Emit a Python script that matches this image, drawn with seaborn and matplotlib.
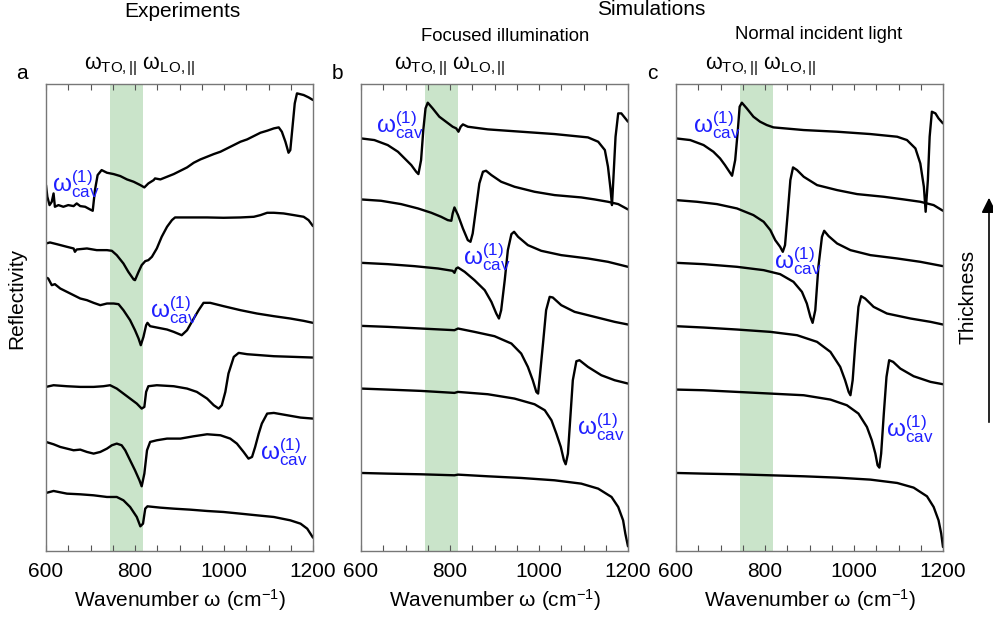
import matplotlib
matplotlib.use('Agg')
import matplotlib.pyplot as plt
import seaborn as sns

# ---- data (wavenumber in cm^-1, offset reflectivity in a.u.) ----
band_lo, band_hi = 743, 817   # omega_TO,|| .. omega_LO,||

# Experiments (a), top curve first
exp1_w = [600, 603, 608, 613, 617, 620, 628, 639, 650, 662, 669, 677, 688, 699, 705, 710, 716, 725, 737, 752,
          767, 782, 797, 812, 821, 830, 842, 845, 857, 872, 887, 902, 917, 932, 947, 962, 977, 992, 1007,
          1022, 1037, 1052, 1067, 1082, 1097, 1112, 1123, 1130, 1138, 1145, 1149, 1154, 1159, 1164, 1179, 1190, 1200]
exp1_r = [10.97, 10.62, 10.37, 10.47, 10.72, 10.32, 10.37, 10.32, 10.37, 10.34, 10.42, 10.34, 10.32, 10.24, 10.20,
          10.82, 11.27, 11.42, 11.34, 11.30, 11.24, 11.14, 11.07, 10.97, 10.90, 11.02, 11.12, 11.17, 11.14, 11.22,
          11.30, 11.40, 11.50, 11.64, 11.74, 11.82, 11.90, 11.97, 12.07, 12.17, 12.27, 12.34, 12.44, 12.54, 12.60,
          12.67, 12.70, 12.57, 12.27, 11.94, 12.02, 12.72, 13.42, 13.72, 13.67, 13.60, 13.52]
exp2_w = [600, 609, 624, 647, 662, 665, 669, 692, 714, 737, 748, 759, 774, 785, 797, 800, 808, 815, 823, 830,
          838, 849, 860, 872, 883, 890, 924, 962, 999, 1037, 1067, 1082, 1097, 1112, 1134, 1157, 1179, 1190, 1200]
exp2_r = [9.22, 9.25, 9.20, 9.12, 9.07, 8.97, 9.04, 9.07, 9.02, 9.02, 9.00, 8.87, 8.62, 8.37, 8.14, 8.12, 8.37,
          8.57, 8.69, 8.72, 8.82, 9.07, 9.42, 9.72, 9.92, 10.00, 10.00, 10.00, 9.99, 10.00, 10.02, 10.07, 10.14,
          10.14, 10.12, 10.07, 10.02, 9.92, 9.74]
exp3_w = [600, 605, 613, 620, 632, 647, 662, 677, 692, 707, 722, 737, 752, 763, 774, 789, 800, 808, 813, 819,
          825, 828, 834, 849, 872, 887, 905, 917, 932, 943, 954, 969, 999, 1037, 1074, 1112, 1149, 1179, 1200]
exp3_r = [8.20, 8.17, 7.97, 8.00, 7.87, 7.77, 7.67, 7.57, 7.52, 7.44, 7.37, 7.42, 7.42, 7.40, 7.22, 6.92, 6.62,
          6.37, 6.17, 6.42, 6.77, 6.84, 6.74, 6.70, 6.64, 6.57, 6.47, 6.62, 6.97, 7.22, 7.44, 7.44, 7.34, 7.22,
          7.12, 7.04, 6.97, 6.90, 6.84]
exp4_w = [600, 617, 647, 677, 707, 729, 744, 759, 774, 789, 804, 815, 821, 825, 830, 849, 887, 917, 939, 962,
          977, 988, 995, 1003, 1010, 1022, 1033, 1052, 1112, 1157, 1200]
exp4_r = [4.92, 4.97, 4.94, 4.92, 4.92, 4.94, 4.97, 4.87, 4.72, 4.57, 4.42, 4.27, 4.32, 4.77, 4.94, 4.97, 4.94,
          4.87, 4.77, 4.57, 4.37, 4.27, 4.37, 4.77, 5.32, 5.82, 5.94, 5.90, 5.84, 5.82, 5.80]
exp5_w = [600, 617, 632, 647, 662, 677, 692, 707, 722, 737, 748, 759, 770, 778, 789, 800, 810, 815, 821, 827,
          834, 849, 872, 902, 932, 962, 992, 1014, 1029, 1044, 1055, 1063, 1070, 1078, 1085, 1097, 1112, 1142,
          1172, 1200]
exp5_r = [3.27, 3.20, 3.12, 3.07, 3.02, 3.04, 2.97, 2.92, 2.97, 3.07, 3.17, 3.22, 3.17, 3.02, 2.72, 2.42, 2.12,
          1.94, 2.32, 3.02, 3.27, 3.32, 3.37, 3.37, 3.44, 3.50, 3.47, 3.37, 3.22, 2.97, 2.77, 2.82, 3.12, 3.52,
          3.82, 4.12, 4.14, 4.07, 4.00, 3.97]
exp6_w = [600, 617, 647, 677, 707, 737, 759, 774, 789, 804, 812, 818, 823, 828, 857, 887, 924, 962, 999, 1037,
          1074, 1112, 1149, 1172, 1187, 1200]
exp6_r = [1.74, 1.80, 1.72, 1.70, 1.67, 1.62, 1.62, 1.52, 1.32, 1.02, 0.74, 0.82, 1.27, 1.34, 1.30, 1.27, 1.24,
          1.20, 1.17, 1.12, 1.07, 1.02, 0.92, 0.82, 0.67, 0.40]

# Simulations, focused illumination (b)
foc1_w = [600, 630, 660, 683, 698, 713, 724, 729, 735, 740, 745, 750, 761, 776, 791, 806, 814, 819, 824, 829,
          840, 885, 960, 1035, 1095, 1110, 1133, 1148, 1155, 1161, 1164, 1167, 1172, 1178, 1185, 1200]
foc1_r = [12.37, 12.32, 12.17, 11.97, 11.77, 11.57, 11.37, 11.30, 11.72, 12.62, 13.27, 13.44, 13.27, 13.02,
          12.87, 12.72, 12.67, 12.57, 12.72, 12.79, 12.72, 12.64, 12.57, 12.50, 12.42, 12.40, 12.27, 12.02, 11.52,
          10.82, 10.37, 11.12, 12.42, 13.12, 13.12, 12.87]
foc2_w = [600, 645, 690, 728, 758, 780, 795, 803, 806, 810, 818, 829, 840, 846, 851, 859, 866, 874, 881, 893,
          915, 945, 990, 1035, 1095, 1125, 1155, 1178, 1200]
foc2_r = [10.54, 10.50, 10.40, 10.27, 10.14, 10.02, 9.92, 9.90, 10.12, 10.30, 10.07, 9.67, 9.32, 9.27, 9.52,
          10.32, 11.02, 11.37, 11.40, 11.27, 11.07, 10.92, 10.77, 10.67, 10.60, 10.54, 10.47, 10.40, 10.24]
foc3_w = [600, 660, 720, 773, 806, 810, 814, 818, 833, 855, 878, 893, 904, 910, 915, 923, 930, 938, 944, 953,
          975, 1005, 1050, 1110, 1155, 1200]
foc3_r = [8.64, 8.60, 8.54, 8.47, 8.40, 8.34, 8.47, 8.50, 8.37, 8.12, 7.82, 7.47, 7.12, 6.97, 7.22, 8.12, 9.02,
          9.50, 9.57, 9.42, 9.17, 9.00, 8.87, 8.77, 8.67, 8.52]
foc4_w = [600, 660, 735, 810, 818, 855, 900, 938, 960, 975, 986, 994, 998, 1001, 1009, 1016, 1024, 1031, 1050,
          1080, 1125, 1170, 1200]
foc4_r = [6.75, 6.72, 6.67, 6.62, 6.67, 6.57, 6.44, 6.22, 5.92, 5.52, 5.12, 4.77, 4.72, 5.12, 6.22, 7.22, 7.62,
          7.60, 7.37, 7.17, 7.02, 6.87, 6.79]
foc5_w = [600, 660, 735, 810, 818, 885, 945, 990, 1013, 1028, 1039, 1049, 1056, 1060, 1065, 1071, 1076, 1084,
          1091, 1110, 1140, 1170, 1200]
foc5_r = [4.87, 4.84, 4.80, 4.74, 4.77, 4.70, 4.57, 4.40, 4.22, 3.92, 3.52, 3.12, 2.72, 2.60, 2.92, 4.12, 5.12,
          5.69, 5.72, 5.52, 5.27, 5.12, 5.02]
foc6_w = [600, 660, 735, 810, 818, 885, 960, 1035, 1095, 1133, 1163, 1178, 1189, 1194, 1200]
foc6_r = [2.34, 2.32, 2.30, 2.27, 2.29, 2.24, 2.19, 2.12, 2.02, 1.87, 1.62, 1.32, 0.92, 0.52, 0.14]

# Simulations, normal incident light (c)
nor1_w = [600, 632, 662, 684, 699, 710, 720, 726, 733, 739, 743, 748, 759, 774, 789, 804, 819, 887, 962, 1037,
          1097, 1119, 1138, 1149, 1157, 1161, 1166, 1170, 1175, 1183, 1190, 1200]
nor1_r = [12.37, 12.32, 12.17, 11.97, 11.77, 11.57, 11.37, 11.25, 11.72, 12.62, 13.32, 13.44, 13.27, 13.02,
          12.87, 12.77, 12.70, 12.62, 12.57, 12.50, 12.42, 12.32, 12.07, 11.62, 10.92, 10.17, 11.12, 12.42, 13.17,
          13.12, 12.97, 12.82]
nor2_w = [600, 647, 692, 737, 774, 797, 812, 823, 834, 840, 845, 851, 857, 863, 872, 887, 917, 962, 1007, 1067,
          1112, 1149, 1179, 1200]
nor2_r = [10.52, 10.47, 10.40, 10.27, 10.07, 9.87, 9.62, 9.32, 9.12, 8.97, 9.17, 10.12, 11.12, 11.50, 11.42,
          11.22, 10.97, 10.82, 10.70, 10.62, 10.54, 10.47, 10.37, 10.20]
nor3_w = [600, 662, 737, 797, 834, 864, 883, 894, 902, 907, 913, 920, 928, 933, 943, 962, 992, 1037, 1097, 1149,
          1200]
nor3_r = [8.64, 8.60, 8.52, 8.42, 8.30, 8.07, 7.77, 7.42, 7.02, 6.84, 7.22, 8.52, 9.42, 9.60, 9.44, 9.22, 9.02,
          8.87, 8.77, 8.67, 8.54]
nor4_w = [600, 662, 737, 812, 872, 917, 947, 969, 980, 988, 992, 997, 1003, 1010, 1016, 1025, 1044, 1074, 1127,
          1172, 1200]
nor4_r = [6.74, 6.70, 6.64, 6.57, 6.47, 6.27, 5.97, 5.52, 5.12, 4.77, 4.67, 5.12, 6.22, 7.32, 7.64, 7.57, 7.32,
          7.12, 6.97, 6.87, 6.79]
nor5_w = [600, 662, 737, 812, 887, 947, 984, 1010, 1029, 1040, 1048, 1053, 1057, 1061, 1067, 1073, 1079, 1088,
          1104, 1134, 1172, 1200]
nor5_r = [4.84, 4.82, 4.77, 4.72, 4.67, 4.54, 4.37, 4.12, 3.72, 3.32, 2.92, 2.57, 2.50, 2.92, 4.12, 5.22, 5.72,
          5.67, 5.47, 5.24, 5.07, 5.00]
nor6_w = [600, 662, 737, 812, 887, 962, 1037, 1097, 1134, 1164, 1179, 1190, 1196, 1200]
nor6_r = [2.34, 2.32, 2.30, 2.27, 2.24, 2.20, 2.14, 2.04, 1.90, 1.64, 1.32, 0.92, 0.52, 0.12]

# label positions of omega_cav^(1) (wavenumber, reflectivity)
cav_a = [(614, 11.0), (834, 7.22), (1081, 2.95)]
cav_b = [(634, 12.77), (830, 8.8), (1085, 3.7)]
cav_c = [(638, 12.77), (821, 8.7), (1072, 3.65)]
mode_label_w = [811, 800, 790]

panels = [
    ('a', [(exp1_w, exp1_r), (exp2_w, exp2_r), (exp3_w, exp3_r), (exp4_w, exp4_r), (exp5_w, exp5_r), (exp6_w, exp6_r)], cav_a),
    ('b', [(foc1_w, foc1_r), (foc2_w, foc2_r), (foc3_w, foc3_r), (foc4_w, foc4_r), (foc5_w, foc5_r), (foc6_w, foc6_r)], cav_b),
    ('c', [(nor1_w, nor1_r), (nor2_w, nor2_r), (nor3_w, nor3_r), (nor4_w, nor4_r), (nor5_w, nor5_r), (nor6_w, nor6_r)], cav_c),
]

sns.set_style('white')
plt.rcParams['font.family'] = ['Liberation Sans', 'DejaVu Sans']
plt.rcParams['mathtext.fontset'] = 'custom'
plt.rcParams['mathtext.rm'] = 'Liberation Sans'
plt.rcParams['mathtext.it'] = 'Liberation Sans'
plt.rcParams['text.color'] = 'black'
plt.rcParams['axes.labelcolor'] = 'black'
plt.rcParams['xtick.labelcolor'] = 'black'
plt.rcParams['axes.unicode_minus'] = False

fig = plt.figure(figsize=(9.93, 6.21), dpi=100)
lefts = [46 / 993, 361 / 993, 676 / 993]
cav_txt = r'$\mathregular{ω_{cav}^{(1)}}$'
mode_txt = r'$\mathregular{ω_{TO,||}}$ $\mathregular{ω_{LO,||}}$'

for i, (tag, curves, cav) in enumerate(panels):
    ax = fig.add_axes([lefts[i], 0.1127, 267 / 993, 0.752])
    ax.axvspan(band_lo, band_hi, color='#cae4ca', lw=0, zorder=0)
    for w, r in curves:
        sns.lineplot(x=w, y=r, ax=ax, color='black', lw=1.7, estimator=None, sort=False)
    for (cw, cr) in cav:
        ax.text(cw, cr, cav_txt, color='#1f1fff', fontsize=17.5, va='center', ha='left')
    ax.set_xlim(600, 1200)
    ax.set_ylim(0, 14)
    ax.set_xticks([600, 800, 1000, 1200])
    ax.set_xticks(range(650, 1200, 50), minor=True)
    ax.set_yticks([])
    ax.tick_params(axis='x', which='both', direction='in', top=True, bottom=True,
                   length=4, width=0.8, color='#555555', labelsize=15, pad=8)
    for s in ax.spines.values():
        s.set_color('#777777')
        s.set_linewidth(1.0)
    ax.set_xlabel('Wavenumber ω (cm$^{\\mathregular{-1}}$)', fontsize=15, labelpad=4)
    ax.text(mode_label_w[i], 1.012, mode_txt, transform=ax.get_xaxis_transform(),
            ha='center', va='bottom', fontsize=15.5)
    fig.text(lefts[i] - 24 / 993, 0.882, tag, fontsize=15, ha='center', va='center')
    if i == 0:
        ax.set_ylabel('Reflectivity', fontsize=15)
        ax.yaxis.set_label_coords(-0.075, 0.54)

fig.text(0.184, 0.981, 'Experiments', fontsize=15, ha='center', va='center')
fig.text(0.656, 0.984, 'Simulations', fontsize=15, ha='center', va='center')
fig.text(0.5086, 0.941, 'Focused illumination', fontsize=13.3, ha='center', va='center')
fig.text(0.824, 0.945, 'Normal incident light', fontsize=13.3, ha='center', va='center')

# thickness arrow on the right
fig.patches.append(matplotlib.patches.FancyArrowPatch((989 / 993, 1 - 425 / 621), (989 / 993, 1 - 195 / 621),
                   transform=fig.transFigure, arrowstyle='-|>,head_length=6,head_width=3',
                   color='black', lw=1.2, mutation_scale=1.5))
fig.text(968 / 993, 1 - 297 / 621, 'Thickness', rotation=90, fontsize=15, ha='center', va='center')

fig.savefig('out.png', dpi=100)
